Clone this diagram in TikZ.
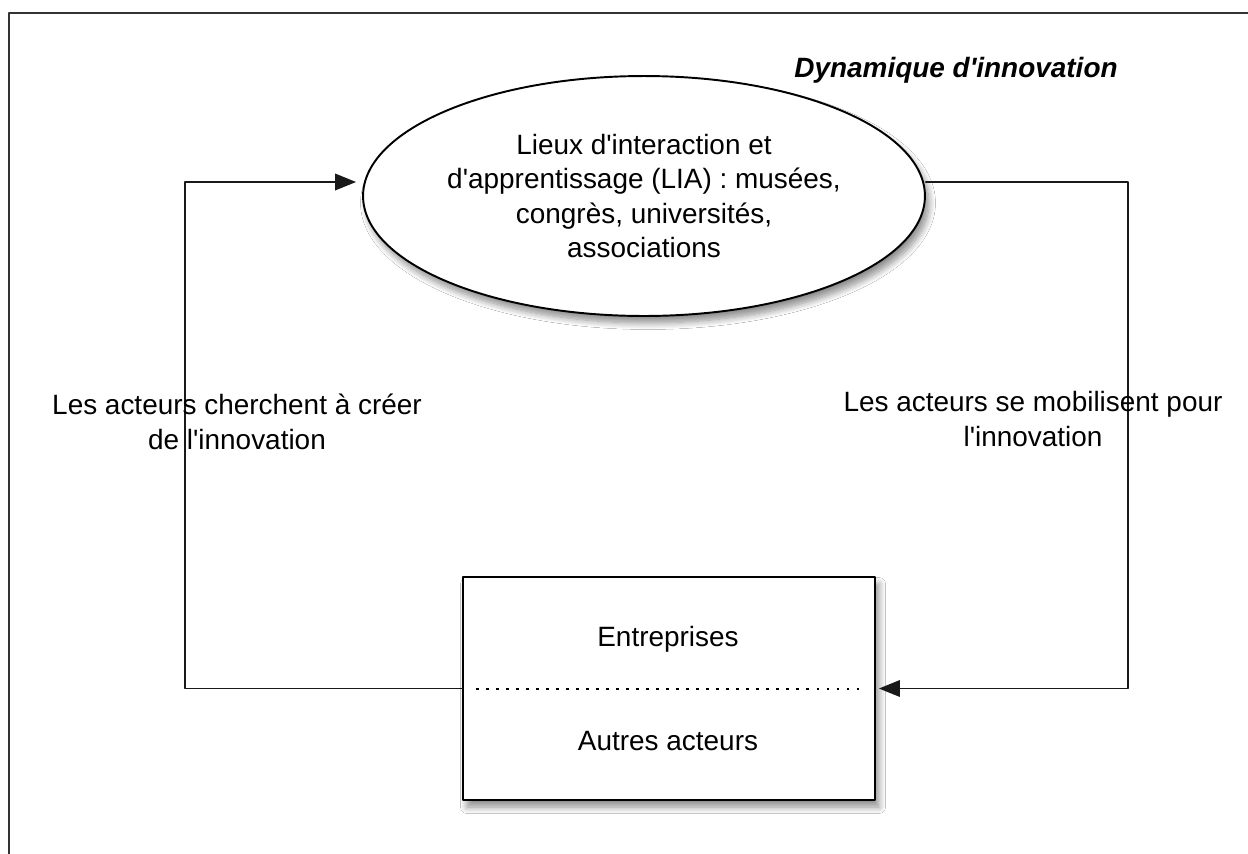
\documentclass[tikz,border=0pt]{standalone}
\usepackage{fontspec}
\newfontfamily\arialfont{Liberation Sans}
\usetikzlibrary{arrows.meta,shapes.geometric,shadows.blur}

\begin{document}
\begin{tikzpicture}[x=0.02cm,y=-0.02cm,line join = round,line cap = round,>={Triangle[length=0.42cm,width=0.33cm]},
		lien/.style={draw=black!90,line width=1.1pt},
		txt/.style={font=\arialfont\fontsize{15.9}{19.6}\selectfont,align=center,inner sep=0pt},
		ombre/.style={blur shadow={shadow xshift=0.08cm,shadow yshift=-0.14cm,shadow blur radius=0.13cm,shadow blur steps=10,shadow opacity=45}}]
				\clip (0,0) rectangle (1248,853);
				\fill[white] (0,0) rectangle (1248,853);
				\draw[line width=1.2pt,black!80] (9,13) rectangle (1280,890);
				\node[txt,font=\arialfont\fontsize{15.9}{19.6}\selectfont\bfseries\itshape,anchor=base] (titre) at (956,77) {Dynamique d'innovation};
				\node[txt,ellipse,draw,line width=1.1pt,fill=white,minimum width=11.24cm,minimum height=4.8cm,ombre] (lia) at (644,196)
					{Lieux d'interaction et\\d'apprentissage (LIA) : musées,\\congrès, universités,\\associations};
				\node[draw,line width=1.1pt,fill=white,minimum width=8.24cm,minimum height=4.46cm,ombre] (acteurs) at (669,688.5) {};
				\node[txt,anchor=base] (ent) at (668,646) {Entreprises};
				\node[txt,anchor=base] (autres) at (668,750) {Autres acteurs};
				\coordinate (sepg) at (476,689);
				\coordinate (sepd) at (862,689);
				\draw[line width=1.1pt,line cap=butt,dash pattern=on 1.5pt off 4.2pt] (sepg) -- (sepd);
				\coordinate (coing) at (185,182);
				\coordinate (coind) at (1128,182);
				\draw[lien,->,shorten >=0.12cm] (acteurs.west) -| (coing) -- (coing -| lia.west);
				\draw[lien,->,shorten >=0.06cm] (coind -| lia.east) -- (coind) |- (acteurs.east);
				\node[txt] (cherchent) at (237,422) {Les acteurs cherchent à créer\\de l'innovation};
				\node[txt] (mobilisent) at (1033,419) {Les acteurs se mobilisent pour\\l'innovation};
			\end{tikzpicture}
\end{document}
